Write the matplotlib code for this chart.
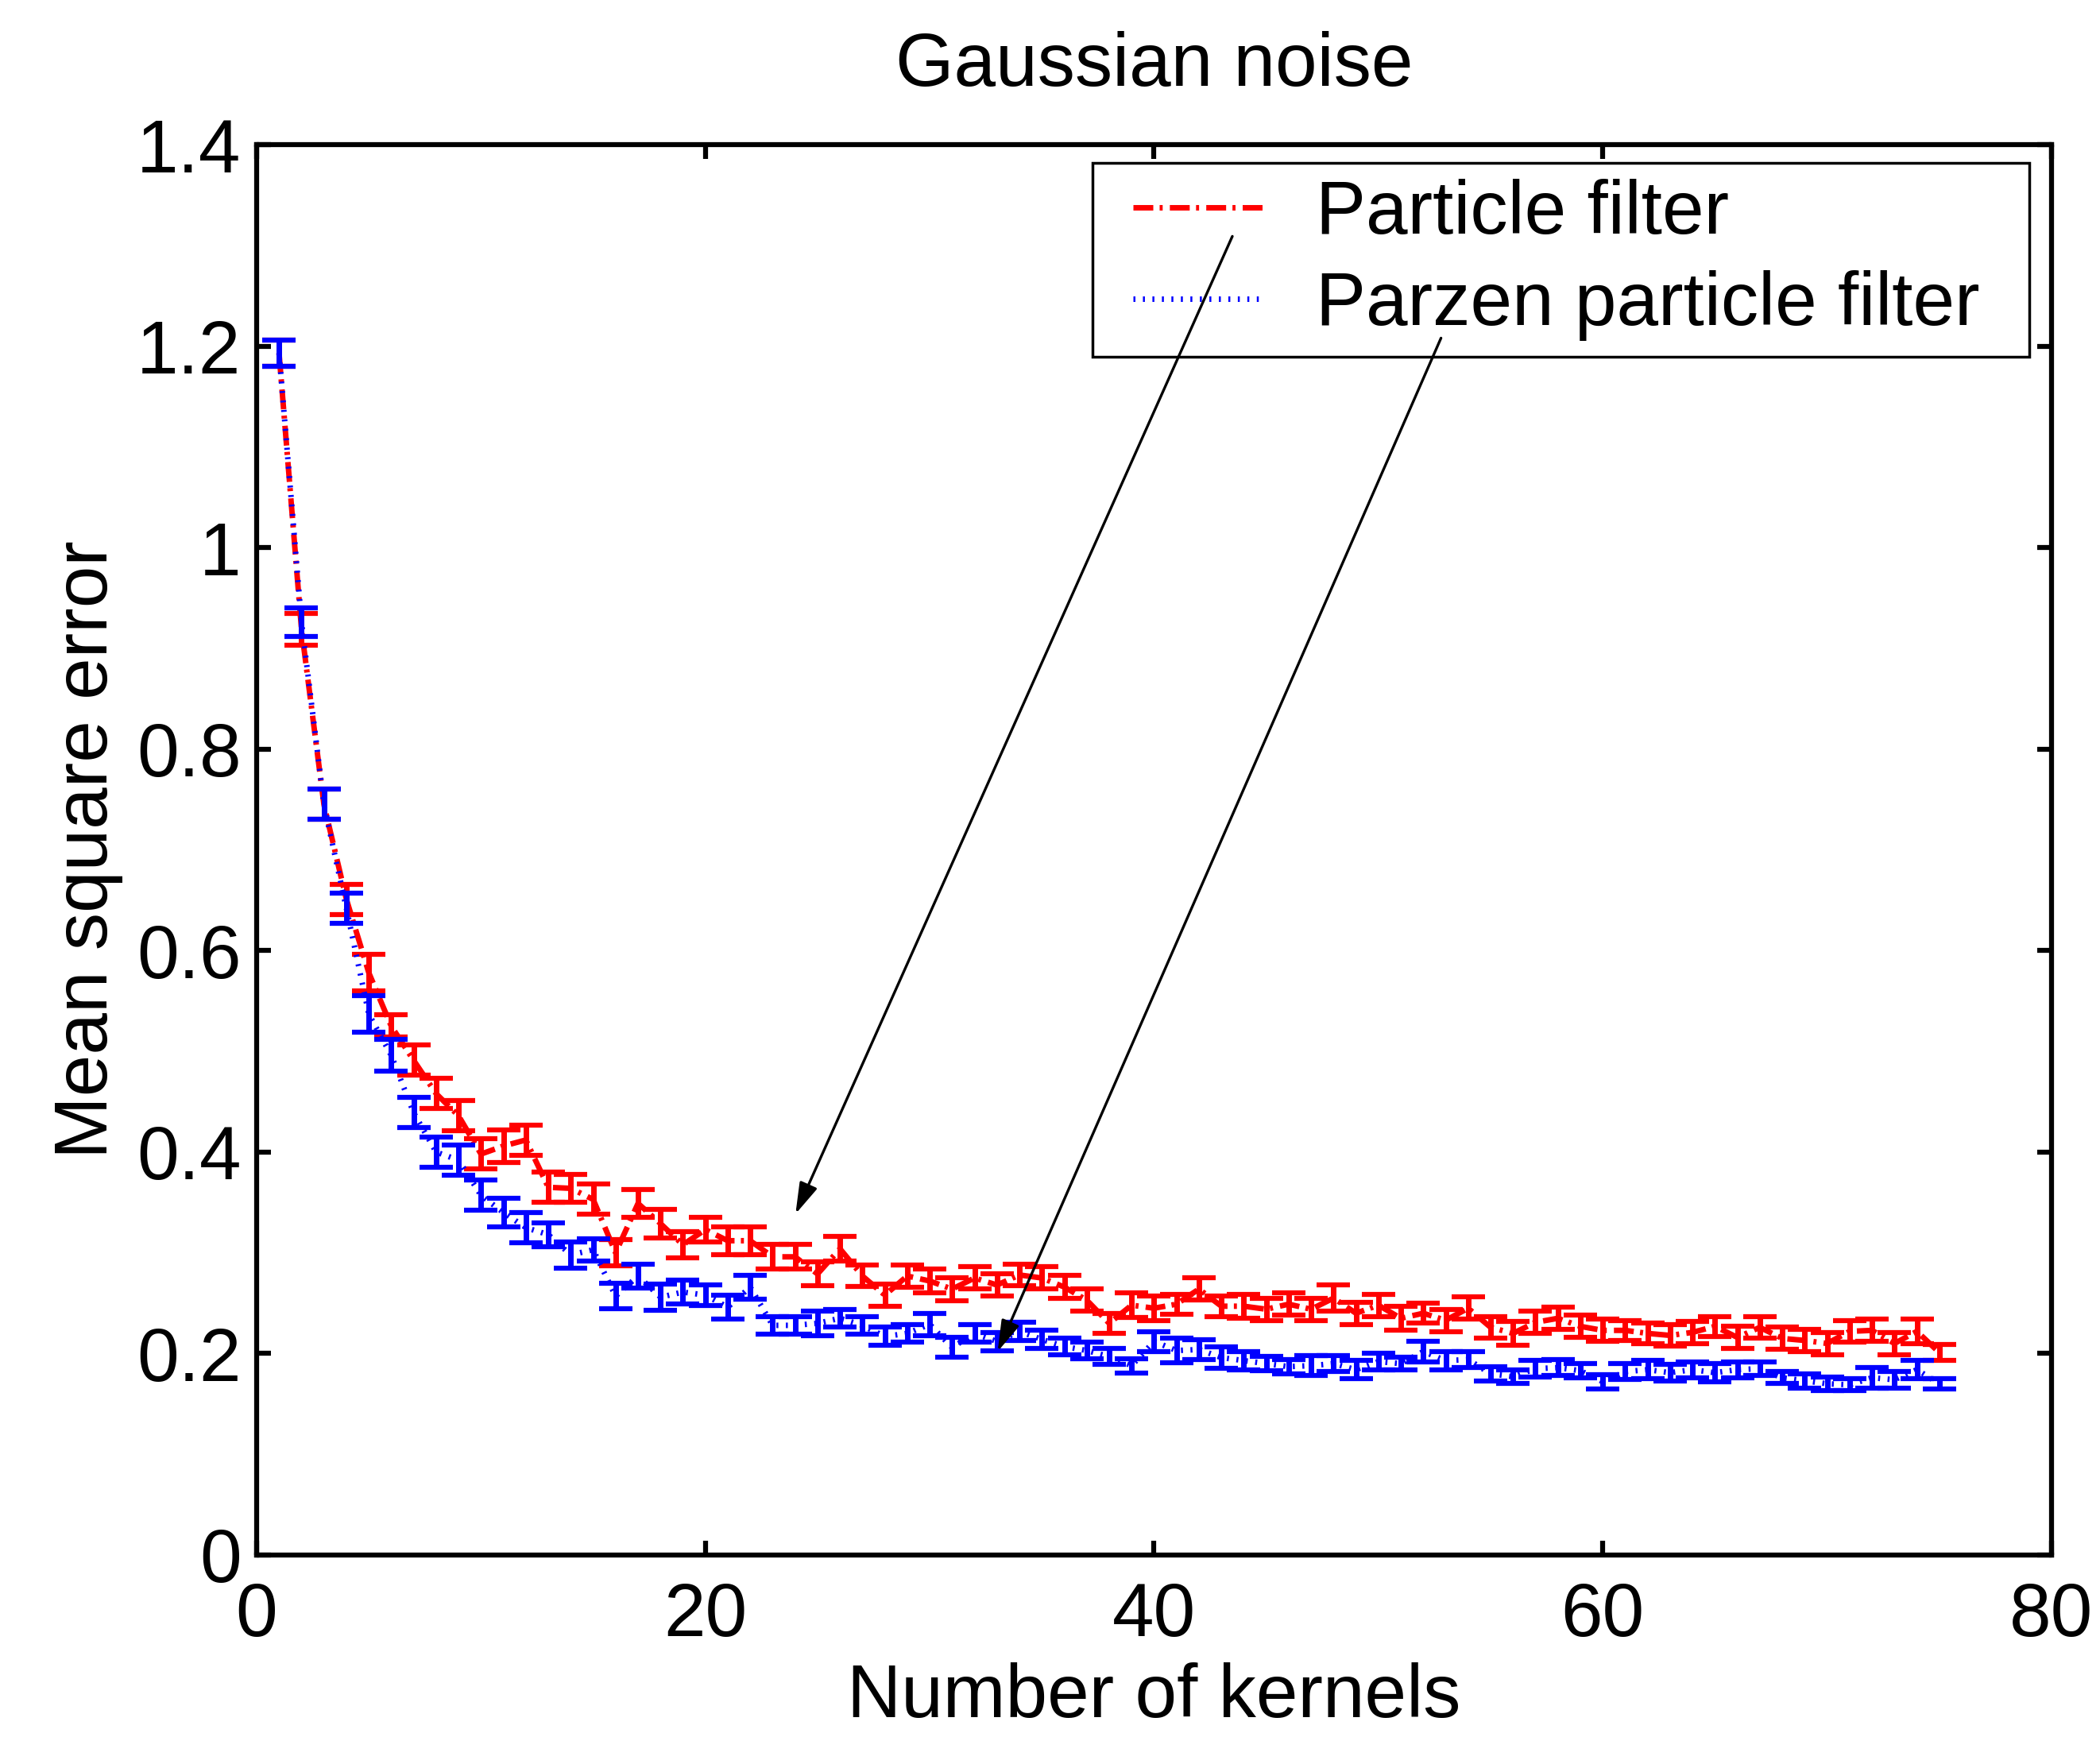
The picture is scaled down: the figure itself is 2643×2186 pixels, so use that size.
import matplotlib
matplotlib.use('Agg')
import matplotlib.pyplot as plt
from matplotlib.lines import Line2D
from matplotlib.legend_handler import HandlerLine2D
from matplotlib.ticker import FixedLocator, FixedFormatter

plt.rcParams['font.family'] = ['Liberation Sans', 'DejaVu Sans']

n_kernels = list(range(1, 76))

pf_mse = [1.193, 0.919, 0.745, 0.651, 0.578,
          0.525, 0.491, 0.458, 0.436, 0.398,
          0.406, 0.412, 0.365, 0.364, 0.353,
          0.300, 0.349, 0.329, 0.308, 0.323,
          0.312, 0.312, 0.296, 0.296, 0.279,
          0.304, 0.277, 0.258, 0.277, 0.272,
          0.264, 0.275, 0.268, 0.278, 0.275,
          0.266, 0.253, 0.230, 0.248, 0.245,
          0.249, 0.264, 0.247, 0.247, 0.244,
          0.249, 0.244, 0.255, 0.240, 0.248,
          0.235, 0.240, 0.233, 0.245, 0.226,
          0.220, 0.231, 0.235, 0.227, 0.223,
          0.223, 0.220, 0.218, 0.221, 0.227,
          0.216, 0.226, 0.215, 0.213, 0.210,
          0.222, 0.223, 0.210, 0.222, 0.201]
pf_err = [0.013, 0.016, 0.015, 0.015, 0.018,
          0.011, 0.015, 0.015, 0.015, 0.015,
          0.016, 0.015, 0.015, 0.014, 0.015,
          0.013, 0.014, 0.014, 0.013, 0.012,
          0.014, 0.014, 0.012, 0.012, 0.012,
          0.012, 0.0105, 0.011, 0.011, 0.012,
          0.0115, 0.011, 0.011, 0.011, 0.011,
          0.0115, 0.011, 0.010, 0.012, 0.012,
          0.010, 0.011, 0.010, 0.012, 0.011,
          0.011, 0.011, 0.013, 0.011, 0.011,
          0.012, 0.010, 0.011, 0.011, 0.011,
          0.012, 0.011, 0.011, 0.011, 0.011,
          0.010, 0.010, 0.0105, 0.011, 0.010,
          0.011, 0.011, 0.011, 0.011, 0.011,
          0.011, 0.011, 0.011, 0.012, 0.008]

ppf_mse = [1.193, 0.926, 0.745, 0.642, 0.537,
           0.496, 0.439, 0.400, 0.392, 0.357,
           0.340, 0.325, 0.318, 0.298, 0.303,
           0.257, 0.277, 0.256, 0.261, 0.258,
           0.246, 0.266, 0.228, 0.228, 0.230,
           0.235, 0.228, 0.217, 0.220, 0.229,
           0.206, 0.220, 0.212, 0.222, 0.214,
           0.207, 0.203, 0.197, 0.188, 0.212,
           0.203, 0.204, 0.196, 0.193, 0.190,
           0.187, 0.188, 0.190, 0.184, 0.192,
           0.190, 0.202, 0.193, 0.194, 0.180,
           0.177, 0.185, 0.186, 0.183, 0.172,
           0.182, 0.184, 0.181, 0.184, 0.181,
           0.184, 0.185, 0.176, 0.173, 0.170,
           0.169, 0.176, 0.174, 0.184, 0.170]
ppf_err = [0.013, 0.014, 0.015, 0.015, 0.018,
           0.016, 0.015, 0.015, 0.015, 0.015,
           0.014, 0.015, 0.012, 0.013, 0.011,
           0.0125, 0.012, 0.013, 0.012, 0.010,
           0.012, 0.012, 0.009, 0.009, 0.0125,
           0.009, 0.009, 0.009, 0.009, 0.011,
           0.010, 0.009, 0.009, 0.009, 0.009,
           0.0085, 0.0085, 0.008, 0.007, 0.010,
           0.0125, 0.010, 0.011, 0.009, 0.007,
           0.007, 0.010, 0.008, 0.009, 0.008,
           0.006, 0.010, 0.009, 0.008, 0.007,
           0.007, 0.008, 0.008, 0.007, 0.007,
           0.008, 0.009, 0.008, 0.008, 0.009,
           0.008, 0.007, 0.006, 0.007, 0.007,
           0.006, 0.010, 0.008, 0.009, 0.005]

series_labels = ['Particle filter', 'Parzen particle filter']
x_ticks = [0, 20, 40, 60, 80]
y_ticks = [0, 0.2, 0.4, 0.6, 0.8, 1.0, 1.2, 1.4]
y_tick_labels = ['0', '0.2', '0.4', '0.6', '0.8', '1', '1.2', '1.4']

FS = 68
LW = 5

fig = plt.figure(figsize=(26.43, 21.86), dpi=100)
ax = fig.add_axes([0.1222, 0.10476, 0.8547, 0.81198])

eb_pf = ax.errorbar(n_kernels, pf_mse, yerr=pf_err, color='#ff0000',
                    linestyle=(0, (3.6, 1.15, 0.55, 1.3)), linewidth=LW,
                    elinewidth=LW, capsize=15, capthick=4.5, zorder=2)
eb_ppf = ax.errorbar(n_kernels, ppf_mse, yerr=ppf_err, color='#0000ff',
                     linestyle=(0, (0.36, 1.36)), linewidth=LW,
                     elinewidth=LW, capsize=15, capthick=4.5, zorder=3)

ax.set_xlim(0, 80)
ax.set_ylim(0, 1.4)
ax.xaxis.set_major_locator(FixedLocator(x_ticks))
ax.yaxis.set_major_locator(FixedLocator(y_ticks))
ax.yaxis.set_major_formatter(FixedFormatter(y_tick_labels))
ax.tick_params(direction='in', length=13, width=4.5, top=True, right=True,
               labelsize=FS, colors='black')
ax.tick_params(axis='x', pad=24)
ax.tick_params(axis='y', pad=14)
for sp in ax.spines.values():
    sp.set_linewidth(4.5)

ax.set_title('Gaussian noise', fontsize=FS, y=1.0417, pad=0, va='baseline')
ax.set_xlabel('Number of kernels', fontsize=FS, va='baseline')
ax.xaxis.set_label_coords(0.5, -0.1149)
ax.set_ylabel('Mean square error', fontsize=FS, va='baseline')
ax.yaxis.set_label_coords(-0.0832, 0.5)

LFS = 68
leg = ax.legend([eb_pf.lines[0], eb_ppf.lines[0]], series_labels,
                loc='upper left', bbox_to_anchor=(0.4657, 0.8518, 0.5219, 0.1352),
                mode='expand', borderaxespad=0, borderpad=0.21, labelspacing=0.28,
                handlelength=2.08, handletextpad=0.69, fontsize=LFS,
                frameon=True, fancybox=False, edgecolor='black', framealpha=1,
                handler_map={Line2D: HandlerLine2D(xpad=0.333)})
leg.get_frame().set_linewidth(2.5)

arrow_kw = dict(arrowstyle='-|>,head_length=0.4,head_width=0.12', lw=2.4,
                color='black', shrinkA=0, shrinkB=0, mutation_scale=60)
ax.annotate('', xy=(24.02, 0.3386), xytext=(43.49, 1.309),
            arrowprops=arrow_kw, zorder=10)
ax.annotate('', xy=(33.03, 0.202), xytext=(52.79, 1.208),
            arrowprops=arrow_kw, zorder=10)

fig.savefig('out.png', dpi=100)
